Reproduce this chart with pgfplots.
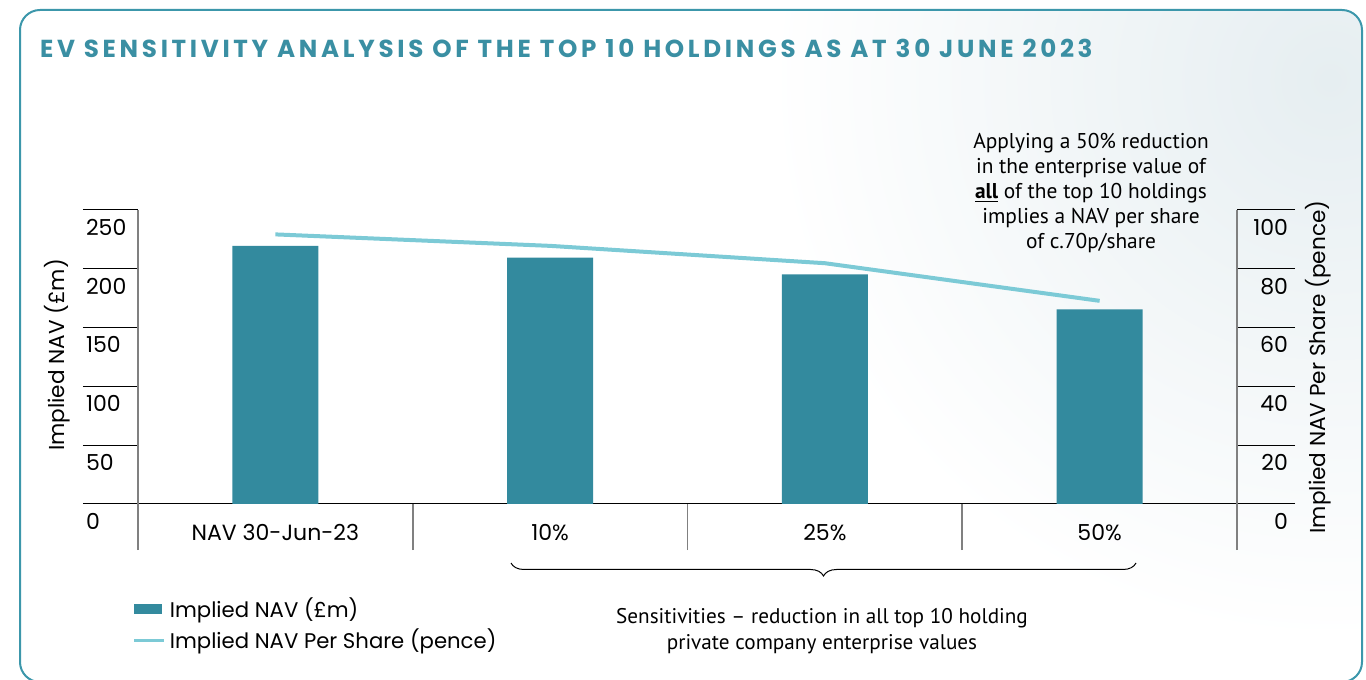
\documentclass[border=0pt]{standalone}
\usepackage{fontspec}
\setmainfont{Poppins}
\newfontfamily\notefont{PT Sans}
\usepackage{pgfplots}
\pgfplotsset{compat=1.18}
\usetikzlibrary{decorations.pathreplacing}

\definecolor{barteal}{HTML}{338A9E}
\definecolor{lineteal}{HTML}{7CCAD6}
\definecolor{titleteal}{HTML}{3A8FA3}
\definecolor{frameteal}{HTML}{3C97AB}
\definecolor{tint}{HTML}{E6EEF1}
\definecolor{axisgray}{HTML}{808080}

\begin{document}
\begin{tikzpicture}
% page = 683pt x 340pt (1 px of the reference = 0.5pt)
\path (0pt,0pt) rectangle (683pt,340pt);
\begin{scope}
  \clip (0pt,0pt) rectangle (683pt,340pt);
  \begin{scope}
    \clip[rounded corners=10pt] (10pt,-1pt) rectangle (681pt,335pt);
    \shade[inner color=tint, outer color=white] (665pt,300pt) circle (280pt);
  \end{scope}
  \draw[frameteal, line width=1pt, rounded corners=10pt] (10pt,-1pt) rectangle (681pt,335pt);
\end{scope}

\node[anchor=west, text=titleteal, font=\bfseries\fontsize{12.3}{14}\selectfont\addfontfeatures{LetterSpace=15}] at (16.5pt,316pt)
  {EV SENSITIVITY ANALYSIS OF THE TOP 10 HOLDINGS AS AT 30 JUNE 2023};

\begin{axis}[
  at={(69pt,88pt)}, anchor=south west, scale only axis,
  width=549.5pt, height=147pt,
  xmin=-0.5, xmax=3.5, ymin=0, ymax=250,
  axis x line=bottom, axis y line=left,
  x axis line style={-, black, line width=0.5pt},
  y axis line style={-, axisgray, line width=0.8pt},
  tick align=outside,
  ytick={0,50,...,250},
  major tick length=27.5pt,
  y tick style={black, line width=0.5pt},
  /pgf/number format/assume math mode=true,
  yticklabel style={anchor=north west, xshift=-2pt, yshift=-1pt, font=\fontsize{11}{13}\selectfont},
  xtick={0,1,2,3},
  xticklabels={NAV 30-Jun-23,10\%,25\%,50\%},
  major x tick style={draw=none},
  minor xtick={-0.5,0.5,1.5,2.5,3.5},
  minor x tick style={axisgray, line width=0.8pt},
  minor tick length=23pt,
  xticklabel style={font=\fontsize{11}{13}\selectfont, yshift=21pt},
  legend style={at={(-0.005,-0.305)}, anchor=north west, draw=none, fill=none,
    font=\fontsize{10.6}{12}\selectfont, row sep=0pt, inner sep=0pt},
  legend cell align=left,
]
\addplot[ybar, bar width=43pt, fill=barteal, draw=none,
  legend image code/.code={\fill[barteal] (0pt,-2.5pt) rectangle (14pt,2.5pt);}]
  coordinates {(0,219.4) (1,209.4) (2,195.3) (3,165.6)};
\addlegendentry{Implied NAV (£m)}
\addlegendimage{lineteal, line width=1.5pt,
  legend image code/.code={\draw[lineteal, line width=1.5pt] (0pt,0pt) -- (15pt,0pt);}}
\addlegendentry{Implied NAV Per Share (pence)}
\end{axis}

\begin{axis}[
  at={(69pt,88pt)}, anchor=south west, scale only axis,
  width=549.5pt, height=147pt,
  xmin=-0.5, xmax=3.5, ymin=0, ymax=100,
  axis x line=none, axis y line=right,
  y axis line style={-, axisgray, line width=0.8pt},
  tick align=outside,
  ytick={0,20,...,100},
  major tick length=29pt,
  y tick style={black, line width=0.5pt},
  /pgf/number format/assume math mode=true,
  yticklabel style={anchor=north east, xshift=0pt, yshift=-1pt, font=\fontsize{11}{13}\selectfont},
]
\addplot[lineteal, line width=2pt] coordinates {(0,91.7) (1,87.8) (2,81.9) (3,69.1)};
\end{axis}

\node[rotate=90, font=\fontsize{10.8}{12}\selectfont] at (28.5pt,162.5pt) {Implied NAV (£m)};
\node[rotate=90, font=\fontsize{10.8}{12}\selectfont] at (659pt,156.5pt) {Implied NAV Per Share (pence)};

\node[align=center, anchor=north, font=\notefont\fontsize{10.7}{12.5}\selectfont] at (545.5pt,277pt)
  {Applying a 50\% reduction\\ in the enterprise value of\\ \underline{\textbf{all}} of the top 10 holdings\\ implies a NAV per share\\ of c.70p/share};

\draw[line width=0.5pt, decorate, decoration={brace, mirror, amplitude=6.5pt}] (255.5pt,58.5pt) -- (568pt,58.5pt);
\node[align=center, font=\notefont\fontsize{10.6}{13}\selectfont] at (411pt,24.5pt)
  {Sensitivities – reduction in all top 10 holding\\ private company enterprise values};
\end{tikzpicture}
\end{document}
